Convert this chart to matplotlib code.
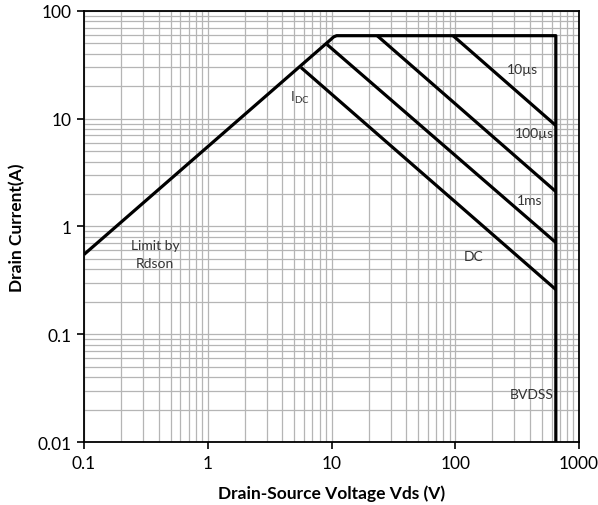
import matplotlib
matplotlib.use("Agg")
import matplotlib.pyplot as plt
from matplotlib.ticker import FixedLocator, FixedFormatter, NullFormatter, LogLocator

plt.rcParams['font.family'] = ['Lato', 'DejaVu Sans']

# Data
rdson_v = [0.1, 9.8, 10.4, 11.0]
rdson_i = [0.55, 54.0, 57.5, 59.0]
limit_v = [11.0, 650, 650]
limit_i = [59.0, 59.0, 0.01]
us10_v = [96, 650]
us10_i = [59.0, 8.65]
us100_v = [23.4, 650]
us100_i = [59.0, 2.11]
ms1_v = [9.2, 650]
ms1_i = [48.9, 0.71]
dc_v = [5.67, 650]
dc_i = [29.9, 0.26]

xticks = [0.1, 1, 10, 100, 1000]
xticklabels = ["0.1", "1", "10", "100", "1000"]
yticks = [0.01, 0.1, 1, 10, 100]
yticklabels = ["0.01", "0.1", "1", "10", "100"]

fig = plt.figure(figsize=(5.98, 5.06), dpi=100)
ax = fig.add_axes([0.1405, 0.1245, 0.8277, 0.8518])
ax.set_xscale('log')
ax.set_yscale('log')
ax.set_xlim(0.1, 1000)
ax.set_ylim(0.01, 100)

lw = 2.3
# envelope: Rdson line joined with the flat current limit and BVDSS line
ax.plot(rdson_v + limit_v[1:], rdson_i + limit_i[1:], color='black', lw=lw,
        solid_capstyle='butt', solid_joinstyle='round', zorder=3)
for xs, ys in [(us10_v, us10_i), (us100_v, us100_i), (ms1_v, ms1_i), (dc_v, dc_i)]:
    ax.plot(xs, ys, color='black', lw=lw, solid_capstyle='butt', zorder=3)

ax.xaxis.set_major_locator(FixedLocator(xticks))
ax.xaxis.set_major_formatter(FixedFormatter(xticklabels))
ax.yaxis.set_major_locator(FixedLocator(yticks))
ax.yaxis.set_major_formatter(FixedFormatter(yticklabels))
ax.xaxis.set_minor_locator(LogLocator(base=10, subs=range(2, 10), numticks=20))
ax.yaxis.set_minor_locator(LogLocator(base=10, subs=range(2, 10), numticks=20))
ax.xaxis.set_minor_formatter(NullFormatter())
ax.yaxis.set_minor_formatter(NullFormatter())

ax.grid(True, which='both', color='#b5b5b5', lw=0.9, zorder=0)
ax.set_axisbelow(True)
ax.tick_params(which='major', direction='out', length=5, width=1.2, labelsize=12.5, pad=4)
ax.tick_params(which='minor', length=0)
for s in ax.spines.values():
    s.set_linewidth(1.3)

ax.set_xlabel("Drain-Source Voltage Vds (V)", fontsize=12.5, fontweight='bold', labelpad=10)
ax.set_ylabel("Drain Current(A)", fontsize=12.5, fontweight='bold', labelpad=9)

tc = '#333333'
fs = 10
ax.text(346, 29, "10µs", fontsize=fs, color=tc, ha='center', va='center')
ax.text(440, 7.3, "100µs", fontsize=fs, color=tc, ha='center', va='center')
ax.text(402, 1.78, "1ms", fontsize=fs, color=tc, ha='center', va='center')
ax.text(142, 0.53, "DC", fontsize=fs, color=tc, ha='center', va='center')
ax.text(5.6, 16, r"I$_{\mathregular{DC}}$", fontsize=fs, color=tc, ha='center', va='center')
ax.text(0.375, 0.56, "Limit by\nRdson", fontsize=fs, color=tc, ha='center', va='center', linespacing=1.6)
ax.text(620, 0.028, "BVDSS", fontsize=fs, color=tc, ha='right', va='center')

fig.savefig("out.png", dpi=100)
